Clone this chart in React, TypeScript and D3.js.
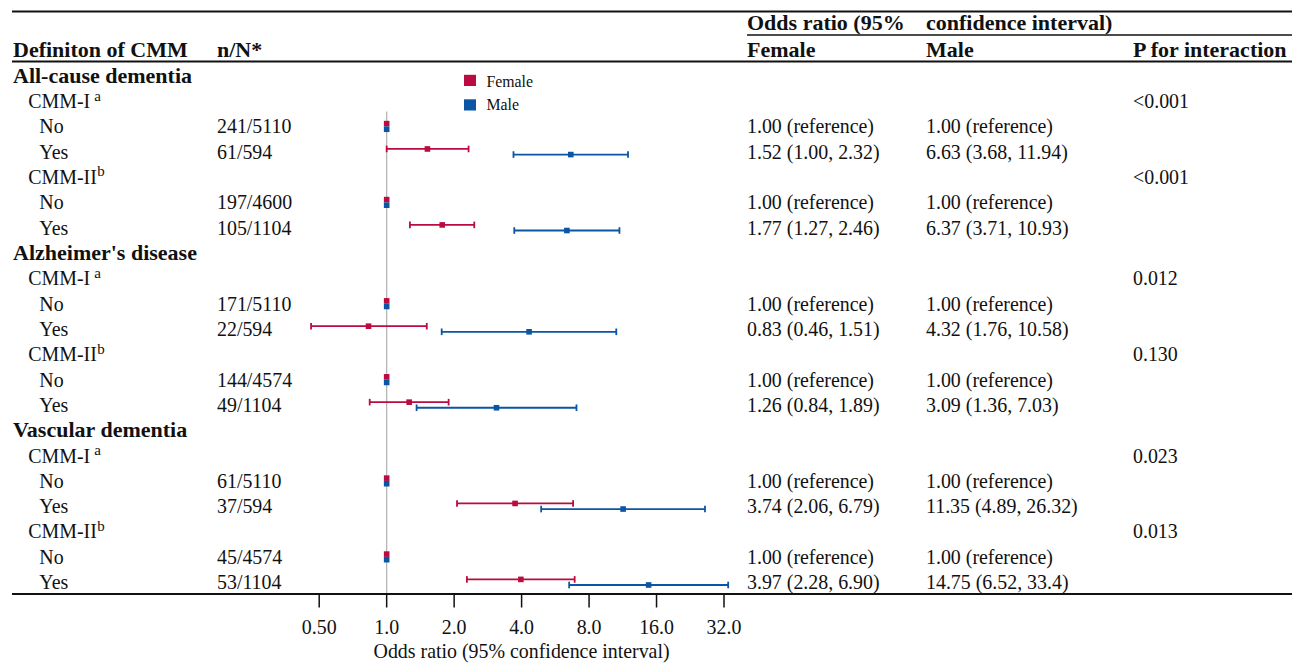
import React from "react";
import * as d3 from "d3";

// ---- data ----
const outcomes = ["All-cause dementia", "Alzheimer's disease", "Vascular dementia"];
const definitions = ["CMM-I", "CMM-II"];
const definitionSup = ["a", "b"];
const exposure = ["No", "Yes"];

// n/N per outcome x definition x exposure (No, Yes)
const nN = [
  "241/5110", "61/594", "197/4600", "105/1104",
  "171/5110", "22/594", "144/4574", "49/1104",
  "61/5110", "37/594", "45/4574", "53/1104",
];

const femaleOR = [1, 1.52, 1, 1.77, 1, 0.83, 1, 1.26, 1, 3.74, 1, 3.97];
const femaleLo = [1, 1.0, 1, 1.27, 1, 0.46, 1, 0.84, 1, 2.06, 1, 2.28];
const femaleHi = [1, 2.32, 1, 2.46, 1, 1.51, 1, 1.89, 1, 6.79, 1, 6.9];
const maleOR = [1, 6.63, 1, 6.37, 1, 4.32, 1, 3.09, 1, 11.35, 1, 14.75];
const maleLo = [1, 3.68, 1, 3.71, 1, 1.76, 1, 1.36, 1, 4.89, 1, 6.52];
const maleHi = [1, 11.94, 1, 10.93, 1, 10.58, 1, 7.03, 1, 26.32, 1, 33.4];

const femaleText = [
  "1.00 (reference)", "1.52 (1.00, 2.32)", "1.00 (reference)", "1.77 (1.27, 2.46)",
  "1.00 (reference)", "0.83 (0.46, 1.51)", "1.00 (reference)", "1.26 (0.84, 1.89)",
  "1.00 (reference)", "3.74 (2.06, 6.79)", "1.00 (reference)", "3.97 (2.28, 6.90)",
];
const maleText = [
  "1.00 (reference)", "6.63 (3.68, 11.94)", "1.00 (reference)", "6.37 (3.71, 10.93)",
  "1.00 (reference)", "4.32 (1.76, 10.58)", "1.00 (reference)", "3.09 (1.36, 7.03)",
  "1.00 (reference)", "11.35 (4.89, 26.32)", "1.00 (reference)", "14.75 (6.52, 33.4)",
];
const pInteraction = ["<0.001", "<0.001", "0.012", "0.130", "0.023", "0.013"];

const tickValues = [0.5, 1, 2, 4, 8, 16, 32];
const tickLabels = ["0.50", "1.0", "2.0", "4.0", "8.0", "16.0", "32.0"];

const FEMALE = "#BA0C40";
const MALE = "#0A55A4";

// ---- layout ----
const W = 1292;
const H = 665;
const FONT = "'Liberation Serif', 'Times New Roman', serif";
const row0 = 82.7;
const rowStep = 25.32;
const axisY = 594;

const x = d3.scaleLog().base(2).domain([0.5, 32]).range([319.2, 724]);

type Row =
  | { kind: "outcome"; label: string }
  | { kind: "def"; label: string; sup: string; p: string }
  | { kind: "exp"; label: string; i: number };

const rows: Row[] = [];
outcomes.forEach((o, oi) => {
  rows.push({ kind: "outcome", label: o });
  definitions.forEach((d, di) => {
    rows.push({ kind: "def", label: d, sup: definitionSup[di], p: pInteraction[oi * 2 + di] });
    exposure.forEach((e, ei) => {
      rows.push({ kind: "exp", label: e, i: oi * 4 + di * 2 + ei });
    });
  });
});

const baseline = (r: number) => row0 + r * rowStep;

const T = ({ px, y, children, bold = false, size, anchor = "start" }: any) => (
  <text
    x={px}
    y={y}
    fontWeight={bold ? "bold" : "normal"}
    fontSize={size ?? (bold ? 22 : 19.9)}
    textAnchor={anchor}
  >
    {children}
  </text>
);

const ErrorBar = ({ y, est, lo, hi, color }: any) => {
  const isRef = lo === hi;
  const s = 5.6;
  return (
    <g>
      {!isRef && (
        <g stroke={color} strokeWidth={1.8}>
          <line x1={x(lo)} x2={x(hi)} y1={y} y2={y} />
          <line x1={x(lo)} x2={x(lo)} y1={y - 3.3} y2={y + 3.3} />
          <line x1={x(hi)} x2={x(hi)} y1={y - 3.3} y2={y + 3.3} />
        </g>
      )}
      <rect x={x(est) - s / 2} y={y - s / 2} width={s} height={s} fill={color} />
    </g>
  );
};

export default function App() {
  return (
    <svg
      width={W}
      height={H}
      style={{ position: "absolute", left: 0, top: 0, background: "#fff" }}
      fontFamily={FONT}
    >
      {/* table rules */}
      <line x1={12} x2={W} y1={11.5} y2={11.5} stroke="#111" strokeWidth={2} />
      <line x1={747} x2={W} y1={35} y2={35} stroke="#111" strokeWidth={1.6} />
      <line x1={12} x2={W} y1={61.5} y2={61.5} stroke="#111" strokeWidth={2} />

      {/* reference line */}
      <line x1={x(1)} x2={x(1)} y1={111.5} y2={axisY} stroke="#b0b0b0" strokeWidth={1.2} />

      {/* bars */}
      {rows.map((r, ri) =>
        r.kind === "exp" ? (
          <g key={"b" + ri}>
            <ErrorBar
              y={baseline(ri) - 9.7}
              est={femaleOR[r.i]}
              lo={femaleLo[r.i]}
              hi={femaleHi[r.i]}
              color={FEMALE}
            />
            <ErrorBar
              y={baseline(ri) - 4.1}
              est={maleOR[r.i]}
              lo={maleLo[r.i]}
              hi={maleHi[r.i]}
              color={MALE}
            />
          </g>
        ) : null
      )}

      {/* legend */}
      <rect x={464} y={74.8} width={12} height={11.2} fill={FEMALE} />
      <rect x={464} y={99.3} width={12} height={11.2} fill={MALE} />

      {/* axis */}
      <line x1={12} x2={W} y1={axisY} y2={axisY} stroke="#111" strokeWidth={2} />
      {tickValues.map((t) => (
        <line key={t} x1={x(t)} x2={x(t)} y1={axisY} y2={607.5} stroke="#111" strokeWidth={1.5} />
      ))}

      <g fill="#111">
        {/* headers */}
        <T px={13} y={57} bold>Definiton of CMM</T>
        <T px={217} y={57} bold>n/N*</T>
        <T px={747} y={29.5} bold>Odds ratio (95%</T>
        <T px={926} y={29.5} bold>confidence interval)</T>
        <T px={747} y={57} bold>Female</T>
        <T px={926} y={57} bold>Male</T>
        <T px={1133} y={57} bold>P for interaction</T>

        {/* legend labels */}
        <T px={486.5} y={86.8} size={15.8}>Female</T>
        <T px={486.5} y={110.4} size={15.8}>Male</T>

        {rows.map((r, ri) => {
          const y = baseline(ri);
          if (r.kind === "outcome")
            return (
              <T key={ri} px={13} y={y} bold>
                {r.label}
              </T>
            );
          if (r.kind === "def")
            return (
              <g key={ri}>
                <text x={28.3} y={y} fontSize={19.9}>
                  {r.label}
                  <tspan dx={r.sup === "a" ? 4 : 0.5} dy={-7.5} fontSize={15}>
                    {r.sup}
                  </tspan>
                </text>
                <T px={1133} y={y}>{r.p}</T>
              </g>
            );
          return (
            <g key={ri}>
              <T px={39.3} y={y}>{r.label}</T>
              <T px={217} y={y}>{nN[r.i]}</T>
              <T px={747} y={y}>{femaleText[r.i]}</T>
              <T px={926} y={y}>{maleText[r.i]}</T>
            </g>
          );
        })}

        {/* tick labels and axis title */}
        {tickValues.map((t, i) => (
          <T key={t} px={x(t)} y={634} anchor="middle">
            {tickLabels[i]}
          </T>
        ))}
        <T px={(x(0.5) + x(32)) / 2} y={658} anchor="middle">
          Odds ratio (95% confidence interval)
        </T>
      </g>
    </svg>
  );
}
